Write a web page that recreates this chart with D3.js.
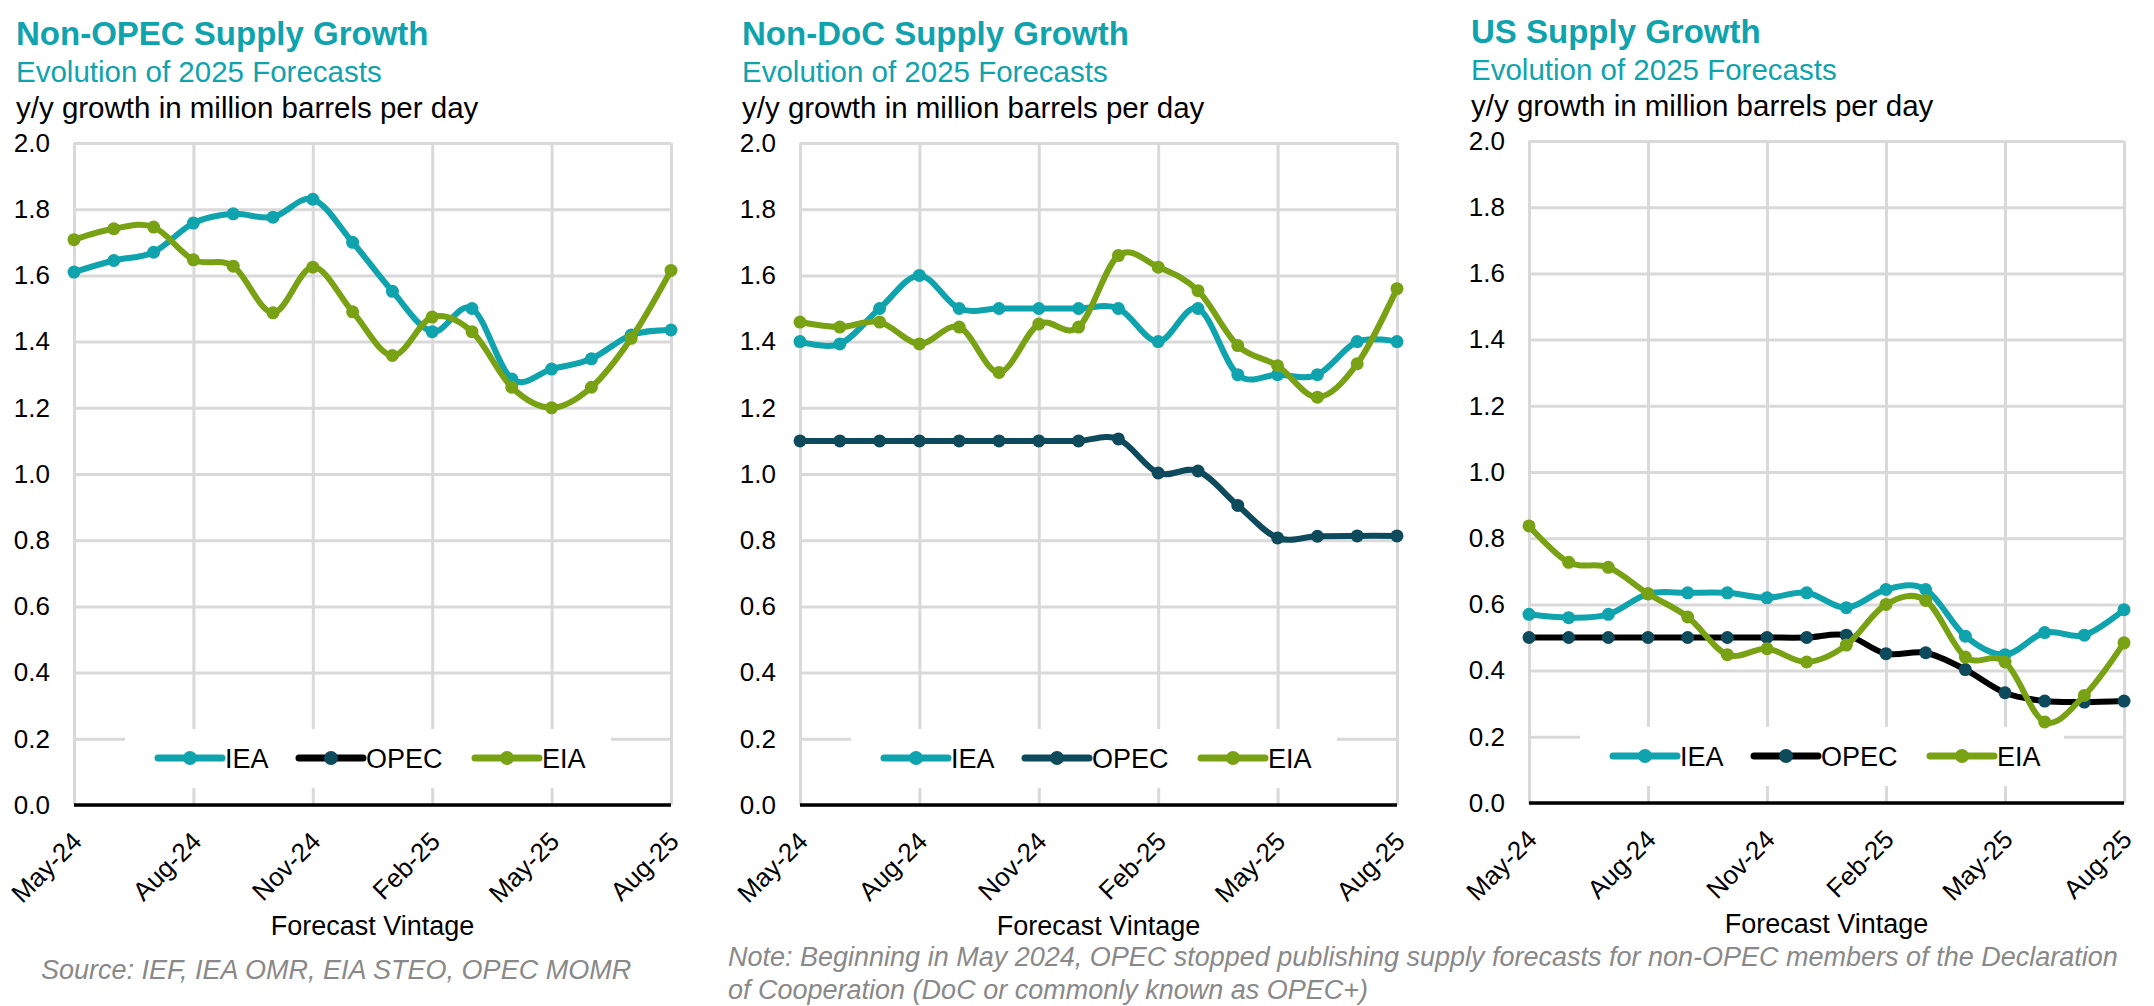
<!DOCTYPE html>
<html>
<head>
<meta charset="utf-8">
<script src="https://cdn.jsdelivr.net/npm/d3@7"></script>
<style>
  body { margin: 0; background: #ffffff; }
  svg { display: block; font-family: "Liberation Sans", Arial, sans-serif; }
</style>
</head>
<body>
<div id="chart"></div>
<script>
// DATA
const months = ["May-24", "Jun-24", "Jul-24", "Aug-24", "Sep-24", "Oct-24", "Nov-24", "Dec-24",
  "Jan-25", "Feb-25", "Mar-25", "Apr-25", "May-25", "Jun-25", "Jul-25", "Aug-25"]
const tickMonths = ["May-24", "Aug-24", "Nov-24", "Feb-25", "May-25", "Aug-25"]
const yTicks = [0, 0.2, 0.4, 0.6, 0.8, 1.0, 1.2, 1.4, 1.6, 1.8, 2.0]
const seriesNames = ["IEA", "OPEC", "EIA"]

const nonOpecIEA = [1.61, 1.645, 1.67, 1.758, 1.786, 1.776, 1.83, 1.70, 1.552, 1.43, 1.50, 1.287, 1.317, 1.348, 1.42, 1.435]
const nonOpecEIA = [1.708, 1.741, 1.746, 1.647, 1.628, 1.487, 1.625, 1.49, 1.358, 1.474, 1.43, 1.262, 1.20, 1.262, 1.41, 1.615]

const nonDocIEA = [1.40, 1.393, 1.50, 1.60, 1.50, 1.50, 1.50, 1.50, 1.50, 1.40, 1.50, 1.30, 1.30, 1.30, 1.40, 1.40]
const nonDocOPEC = [1.10, 1.10, 1.10, 1.10, 1.10, 1.10, 1.10, 1.10, 1.106, 1.003, 1.009, 0.905, 0.807, 0.812, 0.813, 0.813]
const nonDocEIA = [1.459, 1.444, 1.459, 1.393, 1.444, 1.307, 1.453, 1.444, 1.66, 1.625, 1.554, 1.388, 1.327, 1.232, 1.333, 1.56]

const usIEA = [0.57, 0.56, 0.57, 0.632, 0.635, 0.635, 0.62, 0.635, 0.59, 0.645, 0.645, 0.504, 0.448, 0.515, 0.507, 0.584]
const usOPEC = [0.50, 0.50, 0.50, 0.50, 0.50, 0.50, 0.50, 0.50, 0.507, 0.451, 0.454, 0.403, 0.333, 0.308, 0.305, 0.308]
const usEIA = [0.837, 0.727, 0.712, 0.632, 0.562, 0.448, 0.466, 0.426, 0.477, 0.60, 0.612, 0.441, 0.426, 0.245, 0.325, 0.484]

const panelTitles = ["Non-OPEC Supply Growth", "Non-DoC Supply Growth", "US Supply Growth"]
const subTitle = "Evolution of 2025 Forecasts"
const unitLabel = "y/y growth in million barrels per day"
const xAxisLabel = "Forecast Vintage"
const sourceText = "Source: IEF, IEA OMR, EIA STEO, OPEC MOMR"
const noteLines = [
  "Note: Beginning in May 2024, OPEC stopped publishing supply forecasts for non-OPEC members of the Declaration",
  "of Cooperation (DoC or commonly known as OPEC+)"
]

// STYLE
const width = 2154
const height = 1006
const teal = "#0fa3ae"
const darkTeal = "#0d4a5c"
const green = "#78a214"
const gridColor = "#d9d9d9"
const font = "'Liberation Sans', Arial, sans-serif"

const panels = [
  { title: panelTitles[0], left: 74, right: 671, top: 143, bottom: 805, opecLine: "#000000",
    data: { IEA: nonOpecIEA, OPEC: null, EIA: nonOpecEIA } },
  { title: panelTitles[1], left: 800, right: 1397, top: 143, bottom: 805, opecLine: darkTeal,
    data: { IEA: nonDocIEA, OPEC: nonDocOPEC, EIA: nonDocEIA } },
  { title: panelTitles[2], left: 1529, right: 2124, top: 141, bottom: 803, opecLine: "#000000",
    data: { IEA: usIEA, OPEC: usOPEC, EIA: usEIA } }
]

const markerColor = { IEA: teal, OPEC: darkTeal, EIA: green }

const svg = d3
  .select("#chart")
  .append("svg")
  .attr("width", width)
  .attr("height", height)
  .attr("viewBox", [0, 0, width, height])

panels.forEach((p) => {
  const g = svg.append("g")
  const lineColor = { IEA: teal, OPEC: p.opecLine, EIA: green }

  const x = d3.scalePoint().domain(months).range([p.left, p.right])
  const y = d3.scaleLinear().domain([0, 2]).range([p.bottom, p.top])

  // TITLES
  g.append("text")
    .attr("x", p.left - 58)
    .attr("y", p.top - 98)
    .attr("fill", teal)
    .style("font-size", "33px")
    .style("font-weight", "bold")
    .text(p.title)
  g.append("text")
    .attr("x", p.left - 58)
    .attr("y", p.top - 61)
    .attr("fill", teal)
    .style("font-size", "29.5px")
    .text(subTitle)
  g.append("text")
    .attr("x", p.left - 58)
    .attr("y", p.top - 25)
    .attr("fill", "#000")
    .style("font-size", "29.5px")
    .text(unitLabel)

  // GRID + Y AXIS
  const yAxis = g
    .append("g")
    .attr("transform", `translate(${p.left},0)`)
    .call(
      d3.axisLeft(y)
        .tickValues(yTicks)
        .tickFormat(d3.format(".1f"))
        .tickSizeInner(-(p.right - p.left))
        .tickSizeOuter(0)
        .tickPadding(24)
    )
  yAxis.select(".domain").remove()
  yAxis.selectAll(".tick line")
    .attr("stroke", gridColor)
    .attr("stroke-width", 3)
  yAxis.selectAll(".tick text")
    .attr("fill", "#000")
    .style("font-family", font)
    .style("font-size", "26px")

  // X AXIS
  const xAxis = g
    .append("g")
    .attr("transform", `translate(0,${p.bottom})`)
    .call(
      d3.axisBottom(x)
        .tickValues(tickMonths)
        .tickSizeInner(-(p.bottom - p.top))
        .tickSizeOuter(0)
    )
  xAxis.select(".domain").remove()
  xAxis.selectAll(".tick line")
    .attr("stroke", gridColor)
    .attr("stroke-width", 3)
  xAxis.selectAll(".tick text")
    .attr("y", 0)
    .attr("dy", 0)
    .attr("fill", "#000")
    .attr("text-anchor", "end")
    .attr("transform", "translate(9,38) rotate(-45)")
    .style("font-family", font)
    .style("font-size", "26px")

  // LEGEND BOX (covers the grid)
  g.append("rect")
    .attr("x", p.left + 51)
    .attr("y", p.bottom - 76)
    .attr("width", p.right - p.left - 111)
    .attr("height", 59)
    .attr("fill", "#fff")

  // zero line
  g.append("line")
    .attr("x1", p.left)
    .attr("x2", p.right)
    .attr("y1", y(0))
    .attr("y2", y(0))
    .attr("stroke", "#000")
    .attr("stroke-width", 3.5)

  g.append("text")
    .attr("x", (p.left + p.right) / 2)
    .attr("y", p.bottom + 130)
    .attr("text-anchor", "middle")
    .attr("fill", "#000")
    .style("font-size", "27px")
    .text(xAxisLabel)

  // SERIES
  const lineGenerator = d3
    .line()
    .curve(d3.curveCardinal.tension(0))
    .x((d, i) => x(months[i]))
    .y((d) => y(d))

  seriesNames.forEach((name) => {
    const values = p.data[name]
    if (!values) return
    g.append("path")
      .datum(values)
      .attr("d", lineGenerator)
      .attr("fill", "none")
      .attr("stroke", lineColor[name])
      .attr("stroke-width", 6)
      .attr("stroke-linejoin", "round")
    g.selectAll(".dot-" + name)
      .data(values)
      .join("circle")
      .attr("class", "dot-" + name)
      .attr("cx", (d, i) => x(months[i]))
      .attr("cy", (d) => y(d))
      .attr("r", 6.5)
      .attr("fill", markerColor[name])
  })

  // LEGEND
  const legendY = p.bottom - 47
  const legendOffsets = [84, 225, 401]
  seriesNames.forEach((name, i) => {
    const lx = p.left + legendOffsets[i]
    g.append("line")
      .attr("x1", lx)
      .attr("x2", lx + 64)
      .attr("y1", legendY)
      .attr("y2", legendY)
      .attr("stroke", lineColor[name])
      .attr("stroke-width", 7)
      .attr("stroke-linecap", "round")
    g.append("circle")
      .attr("cx", lx + 32)
      .attr("cy", legendY)
      .attr("r", 7)
      .attr("fill", markerColor[name])
    g.append("text")
      .attr("x", lx + 67)
      .attr("y", legendY)
      .attr("dy", "0.36em")
      .attr("fill", "#000")
      .style("font-size", "27px")
      .text(name)
  })
})

// FOOTNOTES
svg.append("text")
  .attr("x", 41)
  .attr("y", 979)
  .attr("fill", "#898989")
  .style("font-size", "27px")
  .style("font-style", "italic")
  .text(sourceText)

svg.selectAll(".note")
  .data(noteLines)
  .join("text")
  .attr("class", "note")
  .attr("x", 728)
  .attr("y", (d, i) => 966 + i * 33)
  .attr("fill", "#898989")
  .style("font-size", "27px")
  .style("font-style", "italic")
  .text((d) => d)
</script>
</body>
</html>
